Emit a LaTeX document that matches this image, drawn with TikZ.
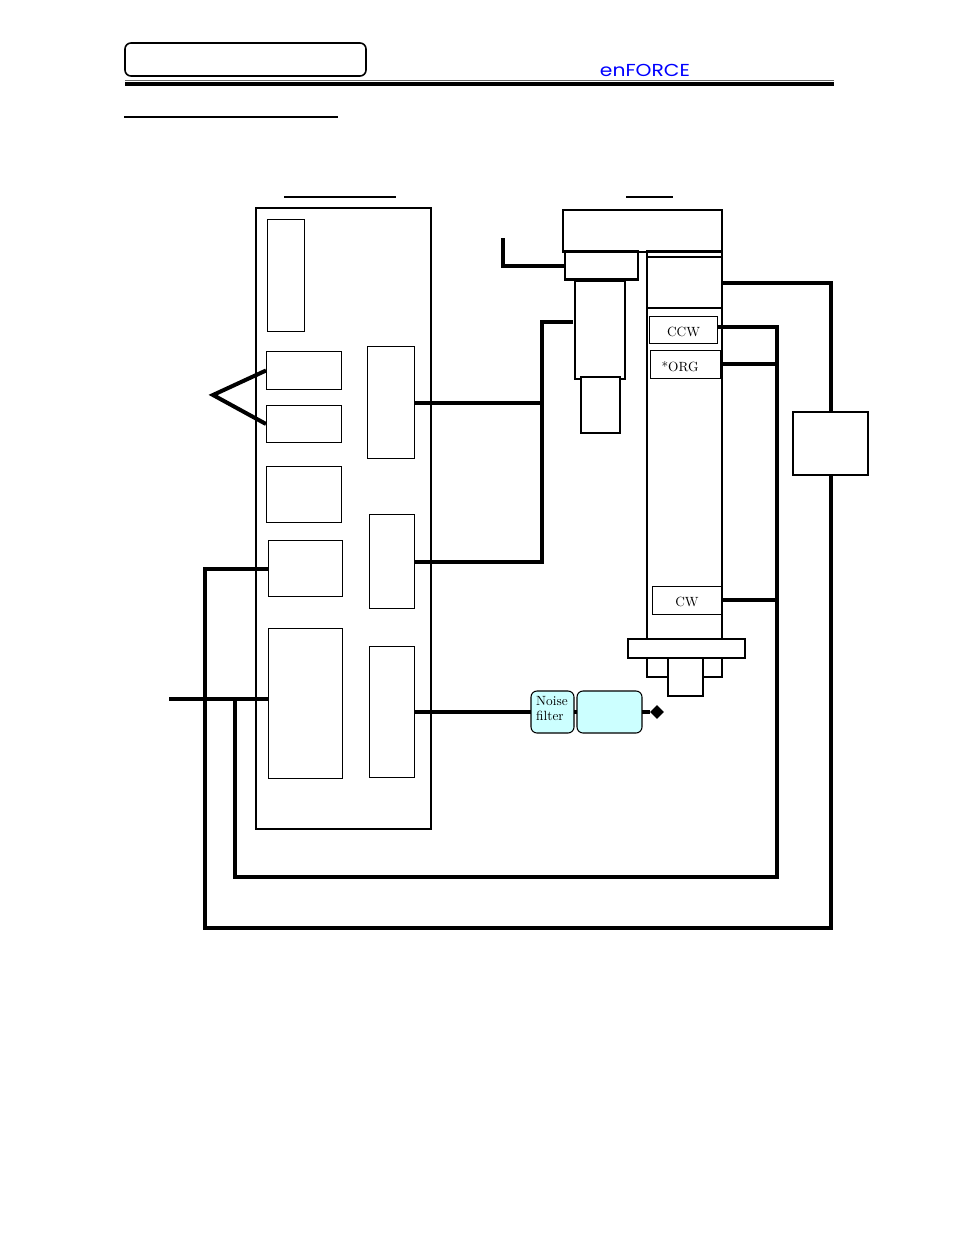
\documentclass[tikz,border=0pt]{standalone}
\usepackage{fontspec}
\usepackage{tikz}
\usetikzlibrary{shapes.geometric, positioning}
\usepackage{xcolor}
\newfontfamily\logofont[FakeStretch=1.17]{Poppins}
\definecolor{filtercyan}{HTML}{CCFFFF}
\tikzset{
	boxsize/.style 2 args={minimum width=#1*0.75pt, minimum height=#2*0.75pt},
	block/.style={draw, inner sep=0pt, outer sep=0pt, line width=0.8pt},
	thinblock/.style={draw, inner sep=0pt, outer sep=0pt, line width=0.6pt},
	heavyblock/.style={draw, inner sep=0pt, outer sep=0pt, line width=2pt},
	filter/.style={block, rounded corners=4.5pt, fill=filtercyan},
	wire/.style={line width=3pt},
	rule/.style={line width=1.4pt}
}

\begin{document}
\begin{tikzpicture}[x=0.75pt, y=-0.75pt]
		\useasboundingbox (0,0) rectangle (954,1235);
		
		% Page header
		\node[block, line width=1.2pt, rounded corners=4.5pt, boxsize={241}{33}] (titlebox) at (245.5,59.5) {};
		\node[text=blue, font=\logofont\fontsize{13}{13}\selectfont] (logo) at (645,70) {enFORCE};
		\coordinate (ruleleft) at (125,0);
		\coordinate (ruleright) at (834,0);
		\draw[line width=1.2pt, black!60] (ruleleft |- 0,80.5) -- (ruleright |- 0,80.5);
		\draw[line width=3pt] (ruleleft |- 0,84) -- (ruleright |- 0,84);
		\draw[rule] (124,117) coordinate (headleft) -- (338,117) coordinate (headright);
		\draw[rule] (284,197) coordinate (ctrlleft) -- (396,197) coordinate (ctrlright);
		\draw[rule] (626,197) coordinate (robotleft) -- (673,197) coordinate (robotright);
		
		% Controller
		\node[block, line width=1.1pt, boxsize={175}{621}] (controller) at (343.5,518.5) {};
		\node[thinblock, boxsize={37}{112}] (slotA) at (285.5,275.5) {};
		\node[thinblock, boxsize={75}{38}] (slotB) at (303.5,370.5) {};
		\node[thinblock, boxsize={75}{37}] (slotC) at (303.5,424) {};
		\node[thinblock, boxsize={75}{56}] (slotD) at (303.5,494.5) {};
		\node[thinblock, boxsize={74}{56}] (slotE) at (305,568.5) {};
		\node[thinblock, boxsize={74}{150}] (slotF) at (305,703.5) {};
		\node[thinblock, boxsize={47}{112}] (slotG) at (390.5,402.5) {};
		\node[thinblock, boxsize={45}{94}] (slotH) at (391.5,561.5) {};
		\node[thinblock, boxsize={45}{131}] (slotI) at (391.5,712) {};
		
		% Robot
		\node[heavyblock, boxsize={159}{42}] (head) at (642.5,231) {};
		\node[heavyblock, fill=white, boxsize={73}{28}] (gear) at (601.5,265.5) {};
		\node[block, line width=1.1pt, boxsize={50}{98}] (motor) at (600,330) {};
		\node[block, line width=1.1pt, fill=white, boxsize={39}{56}] (brake) at (600.5,405) {};
		\node[block, line width=1.1pt, boxsize={75}{389}] (column) at (684.5,445.5) {};
		\node[block, line width=1.1pt, boxsize={75}{51}] (columntop) at (684.5,282.5) {};
		\node[thinblock, boxsize={68}{27}] (ccw) at (683.5,329.5) {};
		\node at (683.5,331.5) {CCW};
		\node[thinblock, boxsize={70}{28}] (org) at (685,364) {};
		\node at (680,366.5) {*ORG};
		\node[thinblock, boxsize={69}{28}] (cw) at (686.5,600) {};
		\node at (687,602) {CW};
		\node[block, line width=1.1pt, boxsize={75}{38}] (foot) at (684.5,658) {};
		\node[heavyblock, line width=1.5pt, fill=white, boxsize={117}{19}] (base) at (686.5,648.5) {};
		\node[block, line width=1.5pt, fill=white, boxsize={35}{38}] (shaft) at (685.5,677) {};
		
		% Power side
		\node[filter, boxsize={43}{42}] (noise) at (552.5,712) {};
		\node[align=left, inner sep=0pt] at (552,709) {Noise\\[-0.75pt]filter};
		\node[filter, boxsize={65}{42}] (supply) at (609.5,712) {};
		\node[diamond, fill=black, inner sep=0pt, minimum size=10.5pt] (ground) at (657,712) {};
		\node[block, line width=1.1pt, boxsize={75}{63}] (driver) at (830.5,443.5) {};
		
		% Free ends
		\coordinate (apex) at (213,395);
		\coordinate (plug) at (503,238);
		\coordinate (motorin) at (573,322);
		\coordinate (mains) at (169,699);
		\coordinate (drivein) at (722,283);
		\coordinate (ccwout) at (717,327);
		\coordinate (busjoin) at (541.5,0);
		
		% Arrows
		\draw[wire] (slotB.west) -- (apex) -- (slotC.west);
		\draw[wire] (slotG.east) -- (slotG.east -| busjoin);
		\draw[wire] (motorin) -- (motorin -| busjoin) -- (slotH.east -| busjoin) -- (slotH.east);
		\draw[wire] (plug) |- (gear.west);
		\draw[wire] (drivein) -| (driver.north);
		\draw[wire] (driver.south) -- (830.5,928) -- (205,928) |- (slotE.west);
		\draw[wire] (ccwout) -| (776.5,877) -- (234.5,877) -- (234.5,699);
		\draw[wire] (org.east) -- (776.5,364);
		\draw[wire] (cw.east) -- (776.5,600);
		\draw[wire] (mains) -- (mains -| slotF.west);
		\draw[wire] (slotI.east) -- (noise.west);
		\draw[wire] (noise.east) -- (supply.west);
		\draw[wire] (supply.east) -- (ground);
	\end{tikzpicture}
\end{document}
